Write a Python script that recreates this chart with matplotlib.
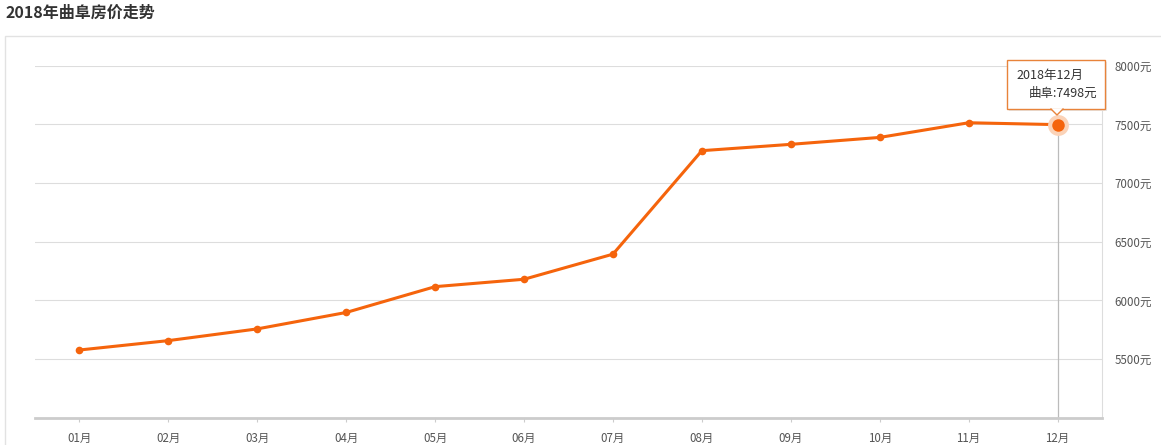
import matplotlib
matplotlib.use("Agg")
import matplotlib.pyplot as plt
from matplotlib.patches import Rectangle, Polygon

plt.rcParams['font.family'] = ['Noto Sans CJK SC', 'DejaVu Sans']

months = ["01月", "02月", "03月", "04月", "05月", "06月",
          "07月", "08月", "09月", "10月", "11月", "12月"]
prices = [5577, 5657, 5757, 5897, 6117, 6180, 6394, 7276, 7330, 7389, 7514, 7498]
y_ticks = [5500, 6000, 6500, 7000, 7500, 8000]
y_labels = ["5500元", "6000元", "6500元", "7000元", "7500元", "8000元"]
title = "2018年曲阜房价走势"
tip_title = "2018年12月"
tip_value = "曲阜:7498元"

W, H = 1161, 445
fig = plt.figure(figsize=(W / 100, H / 100), dpi=100)
fig.patch.set_facecolor("white")

# outer panel border
fig.patches.append(Rectangle((5 / W, -0.01), 1.0, (H - 36) / H + 0.01,
                             transform=fig.transFigure, fill=False,
                             edgecolor="#e2e2e2", linewidth=1.0))
fig.text(5 / W, (H - 13) / H, title, fontsize=11.5, fontweight="bold",
         color="#333333", ha="left", va="center")

ax = fig.add_axes([35 / W, (H - 417.7) / H, (1102 - 35) / W, (417.7 - 65.5) / H])
line_color = "#f5640c"
x = list(range(len(months)))

ax.plot(x, prices, color=line_color, linewidth=2.2, marker="o",
        markersize=5.5, markeredgewidth=0, zorder=4, solid_joinstyle="round")

ax.set_xlim(-0.5, len(months) - 0.5)
ax.set_ylim(5000, 8002)
ax.set_xticks(x)
ax.set_xticklabels(months)
ax.set_yticks(y_ticks)
ax.set_yticklabels(y_labels)
ax.yaxis.tick_right()
ax.tick_params(axis="y", length=0, pad=9, labelsize=8.3, labelcolor="#555555")
ax.tick_params(axis="x", length=3, width=0.8, color="#cccccc", pad=7,
               labelsize=8.3, labelcolor="#555555")
ax.grid(axis="y", color="#dddddd", linewidth=0.8)
for s in ["top", "left"]:
    ax.spines[s].set_visible(False)
ax.spines["right"].set_color("#dddddd")
ax.spines["right"].set_linewidth(0.8)
ax.spines["bottom"].set_color("#cccccc")
ax.spines["bottom"].set_linewidth(2.0)

# hover state on last point
last = len(months) - 1
ax.axvline(last, ymin=0, ymax=(prices[last] - 5000) / 3002, color="#bbbbbb",
           linewidth=0.9, zorder=2)
ax.plot(last, prices[last], "o", color="#fbd3b8", markersize=15,
        markeredgewidth=0, zorder=5)
ax.plot(last, prices[last], "o", color=line_color, markersize=9,
        markeredgewidth=0, zorder=6)

# tooltip box
bx0, by0 = 1007, 109
bw, bh = 98, 49
px = 1057
shadow = Rectangle(((bx0 + 1.5) / W, (H - by0 - 1.5) / H), bw / W, bh / H,
                   transform=fig.transFigure, facecolor="#e8e8e8",
                   edgecolor="none", zorder=9)
box = Rectangle((bx0 / W, (H - by0) / H), bw / W, bh / H,
                transform=fig.transFigure, facecolor="white",
                edgecolor="#e8833a", linewidth=1.0, zorder=10)
fig.patches.extend([shadow, box])
tri = Polygon([((px - 6) / W, (H - by0 + 0.5) / H), ((px + 6) / W, (H - by0 + 0.5) / H),
               (px / W, (H - by0 - 6) / H)], closed=True, transform=fig.transFigure,
              facecolor="white", edgecolor="none", zorder=11)
fig.patches.append(tri)
fig.lines.append(plt.Line2D([(px - 6) / W, px / W, (px + 6) / W],
                            [(H - by0) / H, (H - by0 - 6) / H, (H - by0) / H],
                            transform=fig.transFigure, color="#e8833a",
                            linewidth=1.0, zorder=12))
fig.text(1016 / W, (H - 75) / H, tip_title, fontsize=9, color="#333333",
         ha="left", va="center", zorder=13)
fig.text(1097 / W, (H - 93) / H, tip_value, fontsize=9, color="#333333",
         ha="right", va="center", zorder=13)

fig.savefig("out.png", dpi=100)
